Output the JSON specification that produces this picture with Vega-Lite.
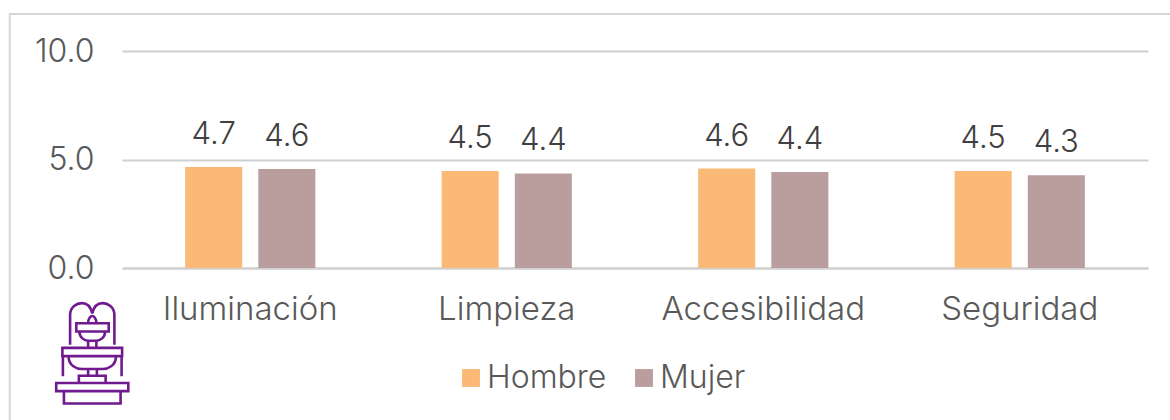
{"$schema":"https://vega.github.io/schema/vega-lite/v6.json","autosize":"none","width":1026,"height":217,"padding":{"left":122,"top":51,"right":22,"bottom":152},"background":"#ffffff","config":{"view":{"stroke":null},"font":"Inter"},"data":{"values":[{"c":"Iluminación","s":"Hombre","v":4.66},{"c":"Iluminación","s":"Mujer","v":4.56},{"c":"Limpieza","s":"Hombre","v":4.47},{"c":"Limpieza","s":"Mujer","v":4.36},{"c":"Accesibilidad","s":"Hombre","v":4.58},{"c":"Accesibilidad","s":"Mujer","v":4.42},{"c":"Seguridad","s":"Hombre","v":4.47},{"c":"Seguridad","s":"Mujer","v":4.27}]},"encoding":{"x":{"field":"c","type":"nominal","sort":["Iluminación","Limpieza","Accesibilidad","Seguridad"],"scale":{"paddingInner":0,"paddingOuter":0},"axis":{"title":null,"labelAngle":0,"labelFontSize":33,"labelFontWeight":300,"labelColor":"#595959","labelPadding":25,"labelLimit":400,"domainColor":"#d0d0d0","domainWidth":2,"ticks":false}},"xOffset":{"field":"s","type":"nominal","scale":{"paddingInner":0.22,"paddingOuter":0.863}}},"layer":[{"mark":{"type":"bar"},"encoding":{"y":{"field":"v","type":"quantitative","scale":{"domain":[0,10]},"axis":{"title":null,"values":[0,5,10],"format":".1f","labelFontSize":32,"labelFontWeight":300,"labelColor":"#595959","labelPadding":28,"ticks":false,"domain":false,"gridColor":"#d0d0d0","gridWidth":2}},"color":{"field":"s","type":"nominal","scale":{"domain":["Hombre","Mujer"],"range":["#fbb977","#ba9e9d"]},"legend":{"title":null,"orient":"none","legendX":333,"legendY":311,"direction":"horizontal","labelFontSize":32,"labelFontWeight":300,"labelColor":"#595959","symbolType":"square","symbolSize":320,"columnPadding":21,"labelOffset":0}}}},{"mark":{"type":"text","dy":-32,"fontSize":31,"fontWeight":300,"color":"#404040"},"encoding":{"y":{"field":"v","type":"quantitative"},"text":{"field":"v","type":"quantitative","format":".1f"}}},{"data":{"values":[{"c":"Iluminación","v":-3.92}]},"mark":{"type":"point","filled":false,"size":10609,"clip":false,"opacity":1,"stroke":"#6f1a8f","strokeWidth":2.6,"xOffset":-158,"shape":"M-.55 .74V.98H.55V.74M-.7 .58H.7V.74H-.7ZM-.26 .58V.44H.26V.58M-.08 .44V.31M.09 .44V.31M-.58 -.1H.58V.06H-.58ZM-.46 .06C-.46 .25 -.3 .31 -.2 .31L.2 .31C.3 .31 .46 .25 .46 .06M-.57 .06V.45M.57 .06V.45M-.08 -.1V-.24M.08 -.1V-.24M-.31 -.58H.32V-.42H-.31ZM-.25 -.42C-.25 -.3 -.15 -.24 -.08 -.24L.08 -.24C.15 -.24 .25 -.3 .25 -.42M-.08 -.58C-.08 -.68 -.03 -.72 0 -.72C.03 -.72 .08 -.68 .08 -.58M-.43 -.16V-.74C-.43 -.9 -.3 -.97 -.2 -.97C-.1 -.97 -.03 -.9 0 -.77C.03 -.9 .1 -.97 .2 -.97C.3 -.97 .43 -.9 .43 -.74V-.16"},"encoding":{"x":{"field":"c","type":"nominal"},"y":{"field":"v","type":"quantitative"},"xOffset":null}},{"data":{"values":[{"c":"Iluminación","v":-3.92}]},"mark":{"type":"point","filled":false,"size":10000,"clip":false,"opacity":1,"stroke":"#d6d6d6","strokeWidth":2,"xOffset":-158,"shape":"M-1.65 2.5V-6.78H22"},"encoding":{"x":{"field":"c","type":"nominal"},"y":{"field":"v","type":"quantitative"},"xOffset":null}}]}
